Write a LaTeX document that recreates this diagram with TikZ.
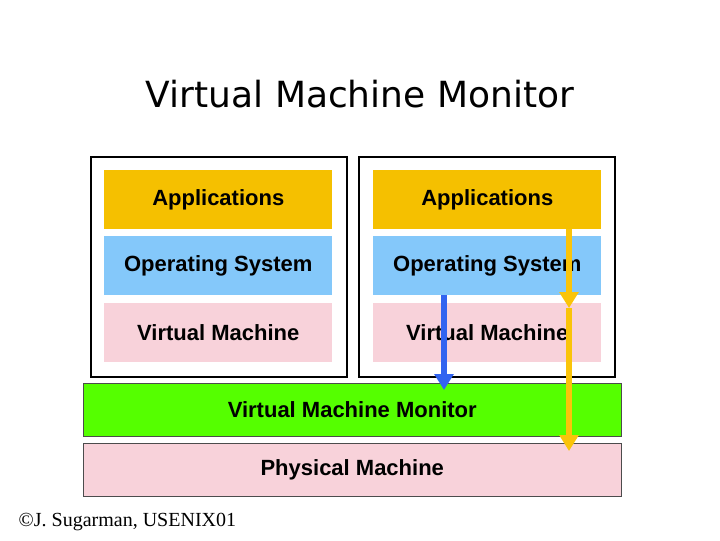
\documentclass[tikz,border=0pt]{standalone}
\usepackage{fontspec}
\setmainfont{Liberation Sans}
\newfontfamily\titlefont{DejaVu Sans}
\newfontfamily\notefont{Liberation Serif}
\usepackage{tikz}
\usetikzlibrary{arrows.meta}
\definecolor{appyellow}{RGB}{245,192,0}
\definecolor{osblue}{RGB}{132,200,250}
\definecolor{vmpink}{RGB}{248,210,218}
\definecolor{vmmgreen}{RGB}{85,255,0}
\definecolor{arrowblue}{RGB}{50,100,240}
\definecolor{arrowyellow}{RGB}{250,196,10}
\begin{document}
\begin{tikzpicture}
		[x = 0.75pt, y = -0.75pt,
		 layer/.style = {minimum width = 228*0.75pt, minimum height = 59*0.75pt, inner sep = 0pt, anchor = north west, font = \bfseries\fontsize{16.5}{18}\selectfont},
		 wide/.style = {draw = black!70, minimum width = 538*0.75pt, minimum height = 53*0.75pt, inner sep = 0pt, anchor = north west, font = \bfseries\fontsize{16.5}{18}\selectfont},
		 frame/.style = {draw, line width = 1.2pt, minimum width = 256*0.75pt, minimum height = 220*0.75pt, anchor = north west},
		 flow/.style = {line width = 4.5pt, -{Triangle[width = 14pt, length = 12pt]}}] 
			\useasboundingbox (0,0) rectangle (720,540);
			\node (title) at (360,94) {\titlefont\fontsize{27}{30}\selectfont Virtual Machine Monitor};
			% two guest stacks
			\node [frame] (leftbox) at (90,156) {};
			\node [frame] (rightbox) at (358,156) {};
			\node [layer, fill = appyellow] (lapp) at (104,170) {Applications};
			\node [layer, fill = osblue] (los) at (104,236) {Operating System};
			\node [layer, fill = vmpink] (lvm) at (104,303) {Virtual Machine};
			\node [layer, fill = appyellow] (rapp) at (373,170) {Applications};
			\node [layer, fill = osblue] (ros) at (373,236) {Operating System};
			\node [layer, fill = vmpink] (rvm) at (373,303) {Virtual Machine};
			% shared layers
			\node [wide, fill = vmmgreen] (vmm) at (83,383) {Virtual Machine Monitor};
			\node [wide, fill = vmpink] (pm) at (83,443) {Physical Machine};
			% traps
			\coordinate (bluetop) at (444,295);
			\coordinate (blueend) at (444,390);
			\coordinate (yeltop) at (569,229);
			\coordinate (yelmid) at (569,308);
			\coordinate (yelend) at (569,451);
			\draw [flow, arrowblue] (bluetop) -- (blueend);
			\draw [flow, arrowyellow] (yelmid) -- (yelend);
			\draw [flow, arrowyellow] (yeltop) -- (yelmid);
			\node [anchor = west] (credit) at (14,522) {\notefont\fontsize{15}{17}\selectfont ©J. Sugarman, USENIX01};
	\end{tikzpicture}
\end{document}
